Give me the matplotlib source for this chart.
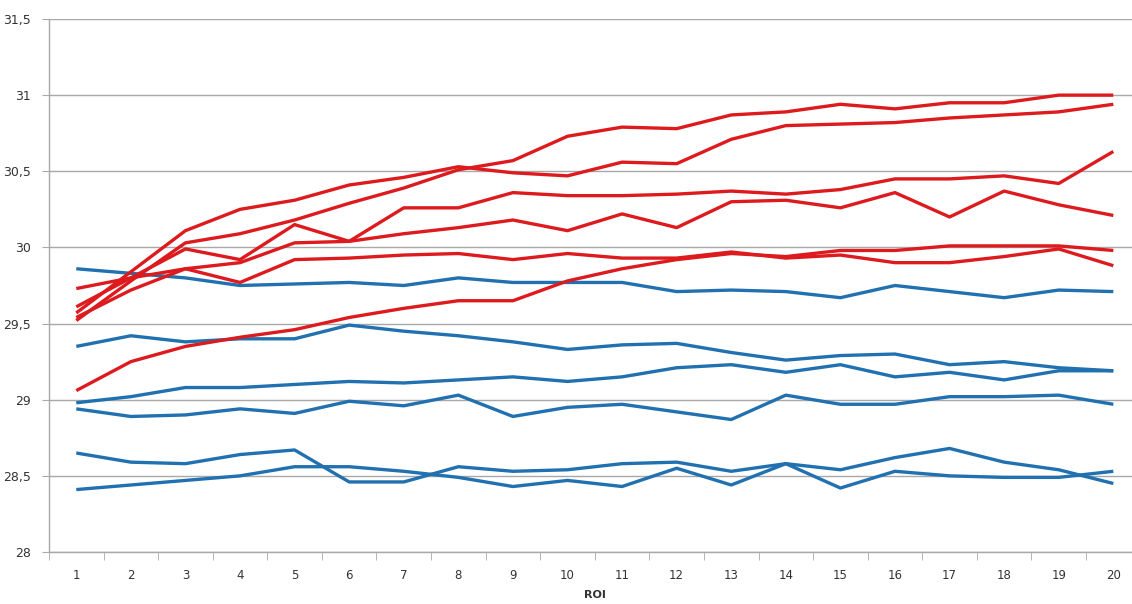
import numpy as np
import matplotlib
matplotlib.use("Agg")
import matplotlib.pyplot as plt
from matplotlib.ticker import FuncFormatter

roi = list(range(1, 21))

# red series
red_1 = [29.57, 29.84, 30.11, 30.25, 30.31, 30.41, 30.46, 30.53, 30.49, 30.47,
         30.56, 30.55, 30.71, 30.80, 30.81, 30.82, 30.85, 30.87, 30.89, 30.94]
red_2 = [29.52, 29.78, 30.03, 30.09, 30.18, 30.29, 30.39, 30.51, 30.57, 30.73,
         30.79, 30.78, 30.87, 30.89, 30.94, 30.91, 30.95, 30.95, 31.00, 31.00]
red_3 = [29.61, 29.80, 29.99, 29.92, 30.15, 30.04, 30.26, 30.26, 30.36, 30.34,
         30.34, 30.35, 30.37, 30.35, 30.38, 30.45, 30.45, 30.47, 30.42, 30.63]
red_4 = [29.54, 29.72, 29.86, 29.90, 30.03, 30.04, 30.09, 30.13, 30.18, 30.11,
         30.22, 30.13, 30.30, 30.31, 30.26, 30.36, 30.20, 30.37, 30.28, 30.21]
red_5 = [29.73, 29.80, 29.86, 29.77, 29.92, 29.93, 29.95, 29.96, 29.92, 29.96,
         29.93, 29.93, 29.97, 29.93, 29.95, 29.90, 29.90, 29.94, 29.99, 29.88]
red_6 = [29.06, 29.25, 29.35, 29.41, 29.46, 29.54, 29.60, 29.65, 29.65, 29.78,
         29.86, 29.92, 29.96, 29.94, 29.98, 29.98, 30.01, 30.01, 30.01, 29.98]

# blue series
blue_1 = [29.86, 29.83, 29.80, 29.75, 29.76, 29.77, 29.75, 29.80, 29.77, 29.77,
          29.77, 29.71, 29.72, 29.71, 29.67, 29.75, 29.71, 29.67, 29.72, 29.71]
blue_2 = [29.35, 29.42, 29.38, 29.40, 29.40, 29.49, 29.45, 29.42, 29.38, 29.33,
          29.36, 29.37, 29.31, 29.26, 29.29, 29.30, 29.23, 29.25, 29.21, 29.19]
blue_3 = [28.98, 29.02, 29.08, 29.08, 29.10, 29.12, 29.11, 29.13, 29.15, 29.12,
          29.15, 29.21, 29.23, 29.18, 29.23, 29.15, 29.18, 29.13, 29.19, 29.19]
blue_4 = [28.94, 28.89, 28.90, 28.94, 28.91, 28.99, 28.96, 29.03, 28.89, 28.95,
          28.97, 28.92, 28.87, 29.03, 28.97, 28.97, 29.02, 29.02, 29.03, 28.97]
blue_5 = [28.65, 28.59, 28.58, 28.64, 28.67, 28.46, 28.46, 28.56, 28.53, 28.54,
          28.58, 28.59, 28.53, 28.58, 28.54, 28.62, 28.68, 28.59, 28.54, 28.45]
blue_6 = [28.41, 28.44, 28.47, 28.50, 28.56, 28.56, 28.53, 28.49, 28.43, 28.47,
          28.43, 28.55, 28.44, 28.58, 28.42, 28.53, 28.50, 28.49, 28.49, 28.53]

red_series = [red_1, red_2, red_3, red_4, red_5, red_6]
blue_series = [blue_1, blue_2, blue_3, blue_4, blue_5, blue_6]

fig = plt.figure(figsize=(11.32, 6.04), dpi=100)
ax = fig.add_axes([49 / 1132, 1 - 552 / 604, 1091.6 / 1132, 533 / 604])

for s in blue_series:
    ax.plot(roi, s, color="#2170B0", lw=2.4, solid_joinstyle="round", solid_capstyle="butt")
for s in red_series:
    ax.plot(roi, s, color="#DD1A1E", lw=2.4, solid_joinstyle="round", solid_capstyle="butt")

ax.set_xlim(0.5, 20.5)
ax.set_ylim(28, 31.5)

yt = np.arange(28, 31.51, 0.5)
ax.set_yticks(yt)
ax.yaxis.set_major_formatter(FuncFormatter(lambda v, p: f"{v:g}".replace(".", ",")))
ax.grid(axis="y", color="#A8A8A8", lw=1.0)
ax.set_axisbelow(True)

ax.set_xticks(roi)
ax.set_xticks(np.arange(0.5, 20.6, 1), minor=True)
ax.tick_params(axis="x", which="major", length=0, pad=12, labelsize=8.5, labelcolor="#333333")
ax.tick_params(axis="x", which="minor", length=6, color="#A8A8A8", direction="out")
ax.tick_params(axis="y", length=5, color="#A8A8A8", labelsize=9, labelcolor="#333333", pad=8)

for side in ["top", "right"]:
    ax.spines[side].set_visible(False)
for side in ["left", "bottom"]:
    ax.spines[side].set_color("#A8A8A8")
    ax.spines[side].set_linewidth(1.0)

ax.set_xlabel("ROI", fontsize=8, fontweight="bold", color="#333333", labelpad=6)

fig.savefig("out.png", dpi=100)
